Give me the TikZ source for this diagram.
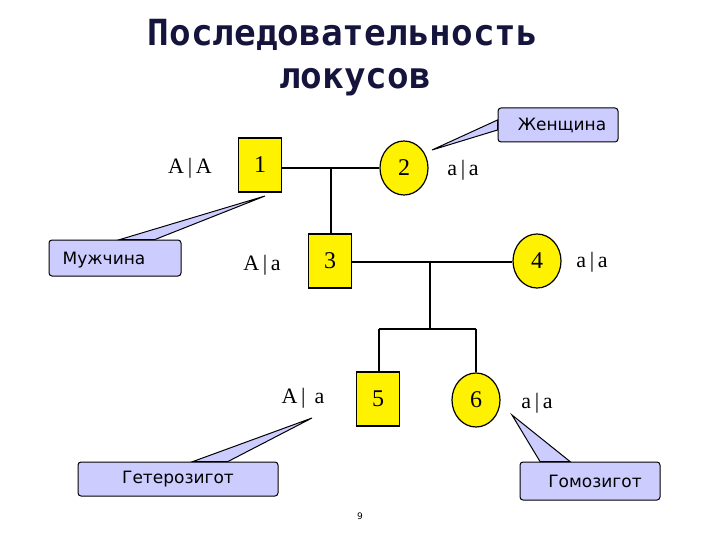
\documentclass[tikz,border=0pt]{standalone}
\usepackage{fontspec}
\setmainfont{Liberation Serif}
\newfontfamily\callfont{DejaVu Sans}
\newfontfamily\titlefont{DejaVu Sans Mono}
\begin{document}
\begin{tikzpicture}[x=1pt,y=-1pt,
  male/.style={draw,line width=1.2pt,fill=yellow,minimum width=43pt,minimum height=54pt,inner sep=0pt,font=\fontsize{24}{24}\selectfont},
  female/.style={draw,line width=1.2pt,fill=yellow,ellipse,minimum width=48pt,minimum height=54pt,inner sep=0pt,font=\fontsize{24}{24}\selectfont},
  geno/.style={font=\fontsize{22}{22}\selectfont},
  callout/.style={draw,line width=1pt,fill={rgb,255:red,204;green,204;blue,255},rounded corners=3pt,inner sep=0pt,font=\callfont\fontsize{17}{17}\selectfont},
  ptr/.style={draw,line width=1pt,fill={rgb,255:red,204;green,204;blue,255}},
  ln/.style={line width=1.2pt}]
\useasboundingbox (0,0) rectangle (720,540);
\usetikzlibrary{shapes.geometric}
\node[font=\titlefont\bfseries\fontsize{36}{36}\selectfont,text={rgb,255:red,20;green,20;blue,60}] (t1) at (343,35) {Последовательность};
\node[font=\titlefont\bfseries\fontsize{36}{36}\selectfont,text={rgb,255:red,20;green,20;blue,60}] (t2) at (355,82) {локусов};
% nodes
\node[male] (n1) at (260,165) {1};
\node[female] (n2) at (404,168) {2};
\node[male] (n3) at (330,261) {3};
\node[female] (n4) at (537,261) {4};
\node[male] (n5) at (378,399) {5};
\node[female] (n6) at (476,400) {6};
\coordinate (m1) at (331,168);
\coordinate (m2) at (430,262);
\coordinate (s) at (430,329);
\coordinate (s5) at (379,329);
\coordinate (s6) at (476,329);
\draw[ln] (n1.east |- m1) -- (n2.west |- m1);
\draw[ln] (m1) -- (n3.north -| m1);
\draw[ln] (n3.east |- m2) -- (n4.west |- m2);
\draw[ln] (m2) -- (s);
\draw[ln] (s5) -- (s6);
\draw[ln] (s5) -- (n5.north -| s5);
\draw[ln] (s6) -- (n6.north);
% genotypes
\node[geno] (g1) at (190,168) {A\,|\,A};
\node[geno] (g2) at (463,170) {a\,|\,a};
\node[geno] (g3) at (262,265) {A\,|\,a};
\node[geno] (g4) at (592,262) {a\,|\,a};
\node[geno] (g5) at (303,398) {A\,|\,\ a};
\node[geno] (g6) at (537,403) {a\,|\,a};
% callouts
\node[callout,minimum width=132pt,minimum height=36pt,text depth=0pt] (c1) at (115,258) {Мужчина\hspace*{22pt}};
\node[callout,minimum width=120pt,minimum height=34pt] (c2) at (558,125) {\hspace*{8pt}Женщина};
\node[callout,minimum width=200pt,minimum height=34pt] (c3) at (178,479) {Гетерозигот};
\node[callout,minimum width=140pt,minimum height=38pt] (c4) at (590,481) {\hspace*{10pt}Гомозигот};
\coordinate (p1) at (265,196);
\coordinate (p2) at (432,150);
\coordinate (p3) at (312,418);
\coordinate (p4) at (512,415);
\draw[ptr] ([xshift=5pt]c1.north) -- (p1) -- ([xshift=40pt]c1.north) -- cycle;
\draw[ptr] ([yshift=-5pt]c2.west) -- (p2) -- ([yshift=5pt]c2.west) -- cycle;
\draw[ptr] ([xshift=15pt]c3.north) -- (p3) -- ([xshift=50pt]c3.north) -- cycle;
\draw[ptr] ([xshift=-50pt]c4.north) -- (p4) -- ([xshift=-20pt]c4.north) -- cycle;
\node[font=\callfont\fontsize{9}{9}\selectfont] (pg) at (360,516) {9};
\end{tikzpicture}
\end{document}
